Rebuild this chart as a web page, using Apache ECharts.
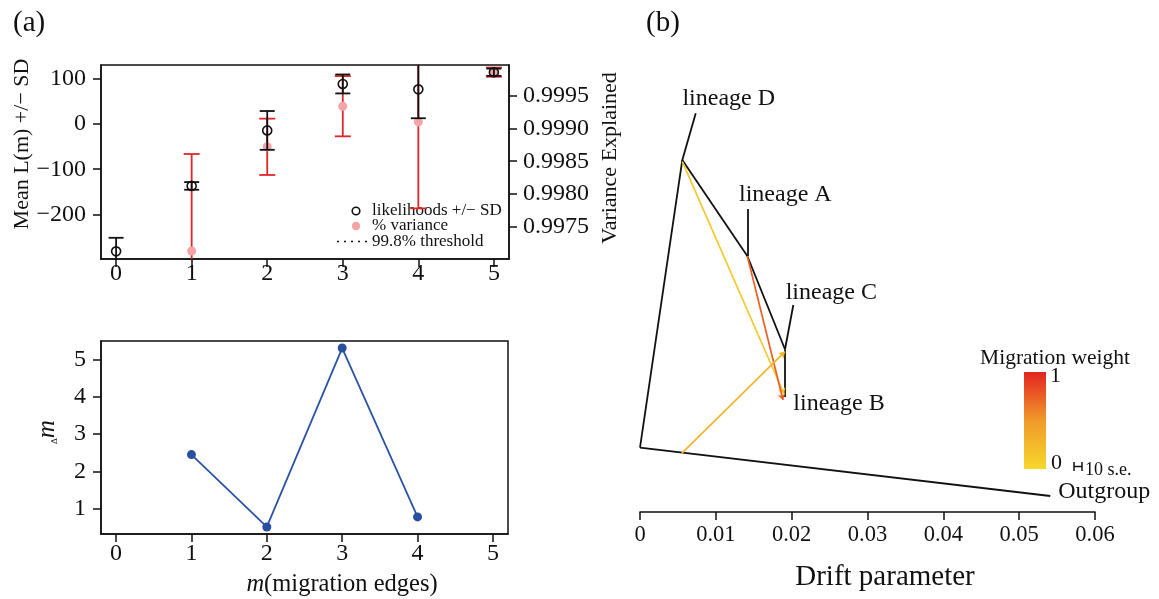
<!DOCTYPE html>
<html>
<head>
<meta charset="utf-8">
<script src="https://cdn.jsdelivr.net/npm/echarts@6/dist/echarts.min.js"></script>
<style>
  html, body { margin: 0; padding: 0; background: #fff; }
  #main { width: 1159px; height: 599px; }
</style>
</head>
<body>
<div id="main"></div>
<script>
// ---- Panel (a), top: mean log-likelihood and variance explained vs. migration edges
const migrationEdges = [0, 1, 2, 3, 4, 5];
const likelihoodMean = [-282, -137, -14, 89, 77, 115];
const likelihoodSD = [30, 8.5, 43, 21, 64, 8];
const varianceMean = [null, 0.99713, 0.99872, 0.99934, 0.99910, 0.99986];
const varianceSD = [null, 0.00148, 0.00043, 0.00046, 0.00132, 0.00007];
const varianceThreshold = 0.998;
const edgeTicks = [0, 1, 2, 3, 4, 5];
const likelihoodTicks = [-200, -100, 0, 100];
const varianceTicks = [0.9975, 0.998, 0.9985, 0.999, 0.9995];

// ---- Panel (a), bottom: delta m
const deltaEdges = [1, 2, 3, 4];
const deltaM = [2.45, 0.5, 5.32, 0.77];
const deltaTicks = [1, 2, 3, 4, 5];

// ---- Panel (b): population tree with migration edges
const nodeNames = ['root', 'Outgroup', 'nodeD', 'lineage D', 'nodeA', 'lineage A', 'nodeC', 'lineage C', 'lineage B'];
const nodeDrift = [0, 0.0541, 0.00558, 0.00735, 0.01415, 0.01415, 0.01912, 0.02022, 0.01912];
const nodeY = [0.1423, 0.0354, 0.7788, 0.882, 0.5664, 0.6704, 0.36, 0.458, 0.2544];
const treeBranches = [[0, 1], [0, 2], [2, 3], [2, 4], [4, 5], [4, 6], [6, 7], [6, 8]];
const tipLabels = ['lineage D', 'lineage A', 'lineage C', 'lineage B', 'Outgroup'];
const migFrom = [[0.00558, 0.775], [0.01415, 0.5664], [0.0055, 0.1299]];
const migTo = [[0.0190, 0.261], [0.01886, 0.2478], [0.01912, 0.3546]];
const migWeight = [0.12, 0.75, 0.3];
const driftTicks = [0, 0.01, 0.02, 0.03, 0.04, 0.05, 0.06];

const SERIF = 'Liberation Serif, Times New Roman, serif';
const INK = '#111';
const heatStops = ['#f7d82b', '#f09a2a', '#e42320'];
const minus = v => String(v).replace('-', '\u2212');

function errorBars(color, capHalf) {
  return function (params, api) {
    const x = api.value(0), m = api.value(1), s = api.value(2);
    const cs = params.coordSys;
    const top = api.coord([x, m + s]);
    const bot = api.coord([x, m - s]);
    const yMin = cs.y, yMax = cs.y + cs.height;
    const clampY = y => Math.max(yMin, Math.min(yMax, y));
    const style = { stroke: color, lineWidth: 1.8, fill: null };
    const children = [{
      type: 'line',
      shape: { x1: top[0], y1: clampY(top[1]), x2: bot[0], y2: clampY(bot[1]) },
      style
    }];
    [top, bot].forEach(p => {
      if (p[1] >= yMin - 0.5 && p[1] <= yMax + 0.5) {
        children.push({ type: 'line', shape: { x1: p[0] - capHalf, y1: p[1], x2: p[0] + capHalf, y2: p[1] }, style });
      }
    });
    return { type: 'group', children };
  };
}

const axisLineStyle = { color: INK, width: 1.5 };
const labelBase = { color: INK, fontFamily: SERIF, fontSize: 24 };

function edgeAxis(gridIndex, margin) {
  return {
    gridIndex, type: 'value', min: -0.2, max: 5.2,
    axisLine: { show: true, onZero: false, lineStyle: axisLineStyle },
    axisTick: { show: true, customValues: edgeTicks, length: 8, lineStyle: axisLineStyle },
    axisLabel: Object.assign({ customValues: edgeTicks, margin }, labelBase),
    splitLine: { show: false }
  };
}

const likelihoodData = migrationEdges.map((m, i) => [m, likelihoodMean[i], likelihoodSD[i]]);
const varianceData = migrationEdges
  .map((m, i) => [m, varianceMean[i], varianceSD[i]])
  .filter(d => d[1] !== null);

const tipData = tipLabels.map(name => {
  const i = nodeNames.indexOf(name);
  return { name, value: [nodeDrift[i], nodeY[i]] };
});
const tipOffsets = { 'lineage D': [33, -15], 'lineage A': [38, -14], 'lineage C': [38, -12], 'lineage B': [54, 7], 'Outgroup': [54, -4] };
tipData.forEach(d => { d.label = { offset: tipOffsets[d.name] }; });

const chart = echarts.init(document.getElementById('main'), null, { renderer: 'canvas' });

const option = {
  backgroundColor: '#fff',
  animation: false,
  grid: [
    { left: 101, top: 65, width: 408, height: 194, show: true, borderColor: INK, borderWidth: 1.5 },
    { left: 101, top: 341, width: 407, height: 193, show: true, borderColor: INK, borderWidth: 1.5 },
    { left: 640, top: 60, width: 455, height: 452, show: false }
  ],
  xAxis: [
    edgeAxis(0, 3),
    edgeAxis(1, 8),
    {
      gridIndex: 2, type: 'value', min: 0, max: 0.06, interval: 0.01,
      axisLine: { show: true, onZero: false, lineStyle: axisLineStyle },
      axisTick: { show: true, length: 8, lineStyle: axisLineStyle },
      axisLabel: Object.assign({}, labelBase, { fontSize: 22.5, margin: 12, formatter: v => (v === 0 ? '0' : v.toFixed(2)) }),
      splitLine: { show: false },
      name: 'Drift parameter', nameLocation: 'middle', nameGap: 51,
      nameTextStyle: { color: INK, fontFamily: SERIF, fontSize: 29, padding: [0, 0, 0, 35] }
    }
  ],
  yAxis: [
    {
      gridIndex: 0, type: 'value', position: 'left', min: -299, max: 131,
      axisLine: { show: true, onZero: false, lineStyle: axisLineStyle },
      axisTick: { show: true, customValues: likelihoodTicks, length: 8, lineStyle: axisLineStyle },
      axisLabel: Object.assign({ customValues: likelihoodTicks, margin: 15, formatter: minus }, labelBase),
      splitLine: { show: false }
    },
    {
      gridIndex: 0, type: 'value', position: 'right', min: 0.997007, max: 0.999969,
      axisLine: { show: true, onZero: false, lineStyle: axisLineStyle },
      axisTick: { show: true, customValues: varianceTicks, length: 8, lineStyle: axisLineStyle },
      axisLabel: Object.assign({ customValues: varianceTicks, margin: 14, formatter: v => v.toFixed(4) }, labelBase),
      splitLine: { show: false }
    },
    {
      gridIndex: 1, type: 'value', min: 0.31, max: 5.51,
      axisLine: { show: true, onZero: false, lineStyle: axisLineStyle },
      axisTick: { show: true, customValues: deltaTicks, length: 8, lineStyle: axisLineStyle },
      axisLabel: Object.assign({ customValues: deltaTicks, margin: 15 }, labelBase),
      splitLine: { show: false }
    },
    { gridIndex: 2, type: 'value', min: 0, max: 1, show: false }
  ],
  series: [
    // red error bars for variance explained
    {
      type: 'custom', xAxisIndex: 0, yAxisIndex: 1, data: varianceData,
      encode: { x: 0, y: 1 }, renderItem: errorBars('#e0262a', 8), silent: true, z: 2
    },
    // variance points + threshold line
    {
      type: 'scatter', xAxisIndex: 0, yAxisIndex: 1,
      data: varianceData.map(d => [d[0], d[1]]),
      symbol: 'circle', symbolSize: 9,
      itemStyle: { color: '#f4a3a6', opacity: 1 },
      z: 3, silent: true,
      markLine: {
        silent: true, symbol: ['none', 'none'], label: { show: false },
        lineStyle: { color: INK, type: [2, 5], width: 1.6 },
        data: [{ yAxis: varianceThreshold }]
      }
    },
    // black error bars for likelihoods
    {
      type: 'custom', xAxisIndex: 0, yAxisIndex: 0, data: likelihoodData,
      encode: { x: 0, y: 1 }, renderItem: errorBars(INK, 7.5), silent: true, z: 4
    },
    // likelihood points
    {
      type: 'scatter', xAxisIndex: 0, yAxisIndex: 0,
      data: likelihoodData.map(d => [d[0], d[1]]),
      symbol: 'circle', symbolSize: 9,
      itemStyle: { color: 'rgba(255,255,255,0)', borderColor: INK, borderWidth: 1.6, opacity: 1 },
      z: 5, silent: true
    },
    // delta m
    {
      type: 'line', xAxisIndex: 1, yAxisIndex: 2,
      data: deltaEdges.map((m, i) => [m, deltaM[i]]),
      symbol: 'circle', symbolSize: 9, showSymbol: true,
      lineStyle: { color: '#2b53a4', width: 1.8 },
      itemStyle: { color: '#2a4fa0' },
      silent: true
    },
    // tree branches
    {
      type: 'lines', coordinateSystem: 'cartesian2d', xAxisIndex: 2, yAxisIndex: 3,
      data: treeBranches.map(([a, b]) => ({ coords: [[nodeDrift[a], nodeY[a]], [nodeDrift[b], nodeY[b]]] })),
      lineStyle: { color: INK, width: 1.8, opacity: 1, curveness: 0 },
      symbol: ['none', 'none'], silent: true, z: 3
    },
    // migration edges
    {
      type: 'lines', coordinateSystem: 'cartesian2d', xAxisIndex: 2, yAxisIndex: 3,
      data: migFrom.map((f, i) => ({
        coords: [f, migTo[i]],
        lineStyle: { color: echarts.color.lerp(migWeight[i], heatStops) }
      })),
      lineStyle: { width: 1.7, opacity: 1, curveness: 0 },
      symbol: ['none', 'arrow'], symbolSize: 6, silent: true, z: 4
    },
    // tip labels
    {
      type: 'scatter', xAxisIndex: 2, yAxisIndex: 3, data: tipData,
      symbolSize: 0, silent: true, z: 5,
      itemStyle: { opacity: 1 },
      label: {
        show: true, formatter: '{b}', position: 'inside', align: 'center', verticalAlign: 'middle',
        color: INK, opacity: 1, fontFamily: SERIF, fontSize: 24
      }
    }
  ],
  graphic: [
    { type: 'text', x: 13, y: 23, style: { text: '(a)', font: '29px ' + SERIF, fill: INK, verticalAlign: 'middle' } },
    { type: 'text', x: 646, y: 23, style: { text: '(b)', font: '29px ' + SERIF, fill: INK, verticalAlign: 'middle' } },
    { type: 'text', x: 22, y: 144, rotation: Math.PI / 2,
      style: { text: 'Mean L(m) +/\u2212 SD', font: '22px ' + SERIF, fill: INK, align: 'center', verticalAlign: 'middle' } },
    { type: 'text', x: 610, y: 158, rotation: Math.PI / 2,
      style: { text: 'Variance Explained', font: '22px ' + SERIF, fill: INK, align: 'center', verticalAlign: 'middle' } },
    { type: 'text', x: 47, y: 432, rotation: Math.PI / 2,
      style: {
        text: '{d|\u0394}{m|m}', align: 'center', verticalAlign: 'middle',
        rich: {
          d: { fontSize: 9, fontFamily: SERIF, fill: INK, verticalAlign: 'bottom' },
          m: { fontSize: 25, fontStyle: 'italic', fontFamily: SERIF, fill: INK }
        }
      } },
    { type: 'text', x: 342, y: 585,
      style: {
        text: '{i|m}{r|(migration edges)}', align: 'center', verticalAlign: 'middle',
        rich: {
          i: { fontSize: 24.5, fontStyle: 'italic', fontFamily: SERIF, fill: INK },
          r: { fontSize: 24.5, fontFamily: SERIF, fill: INK }
        }
      } },
    // legend inside the upper plot
    { type: 'circle', shape: { cx: 356, cy: 211, r: 3.8 }, style: { fill: null, stroke: INK, lineWidth: 1.6 } },
    { type: 'circle', shape: { cx: 356, cy: 226, r: 4.2 }, style: { fill: '#f4a3a6' } },
    { type: 'line', shape: { x1: 337, y1: 241.5, x2: 369, y2: 241.5 }, style: { stroke: INK, lineWidth: 1.6, lineDash: [2, 5] } },
    { type: 'text', x: 372, y: 211, style: { text: 'likelihoods +/\u2212 SD', font: '17px ' + SERIF, fill: INK, verticalAlign: 'middle' } },
    { type: 'text', x: 372, y: 226, style: { text: '% variance', font: '17px ' + SERIF, fill: INK, verticalAlign: 'middle' } },
    { type: 'text', x: 372, y: 241.5, style: { text: '99.8% threshold', font: '17px ' + SERIF, fill: INK, verticalAlign: 'middle' } },
    // migration weight colour bar
    { type: 'text', x: 1055, y: 358, style: { text: 'Migration weight', font: '21.5px ' + SERIF, fill: INK, align: 'center', verticalAlign: 'middle' } },
    { type: 'rect', shape: { x: 1024, y: 372, width: 22, height: 97 },
      style: { fill: new echarts.graphic.LinearGradient(0, 0, 0, 1, [
        { offset: 0, color: heatStops[2] }, { offset: 0.5, color: heatStops[1] }, { offset: 1, color: heatStops[0] }
      ]) } },
    { type: 'text', x: 1050, y: 376, style: { text: '1', font: '22px ' + SERIF, fill: INK, verticalAlign: 'middle' } },
    { type: 'text', x: 1051, y: 463, style: { text: '0', font: '22px ' + SERIF, fill: INK, verticalAlign: 'middle' } },
    // 10 s.e. scale bar
    { type: 'polyline', shape: { points: [[1074, 462], [1074, 471]] }, style: { stroke: INK, lineWidth: 1.5 } },
    { type: 'polyline', shape: { points: [[1082, 462], [1082, 471]] }, style: { stroke: INK, lineWidth: 1.5 } },
    { type: 'polyline', shape: { points: [[1074, 466.5], [1082, 466.5]] }, style: { stroke: INK, lineWidth: 1.5 } },
    { type: 'text', x: 1085, y: 470, style: { text: '10 s.e.', font: '18px ' + SERIF, fill: INK, verticalAlign: 'middle' } }
  ]
};

chart.setOption(option);
</script>
</body>
</html>
